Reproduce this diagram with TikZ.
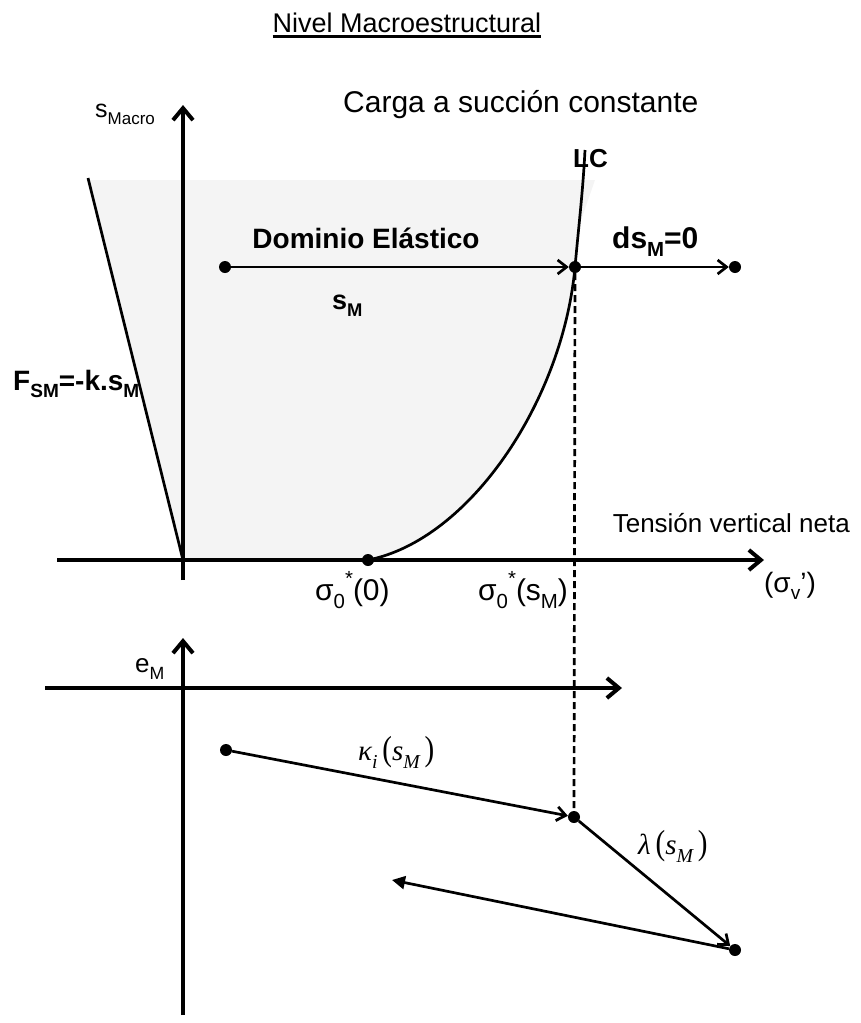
\documentclass[tikz,border=0pt]{standalone}
\usepackage{fontspec}
\setmainfont{Liberation Sans}
\newfontfamily\tms{Liberation Serif}
\usepackage{graphicx}
\usetikzlibrary{arrows.meta}
\newcommand\dn[1]{\raisebox{-0.28em}{\scalebox{0.68}{#1}}}
\newcommand\up[1]{\raisebox{0.5em}{\scalebox{0.68}{#1}}}
\newcommand\fs[1]{\fontsize{#1}{#1}\selectfont}
\newcommand\bigpar[1]{\scalebox{1}[1.2]{#1}}
\begin{document}
\begin{tikzpicture}[x=1pt,y=-1pt,
  dot/.style={circle,fill=black,inner sep=0pt,minimum size=12pt},
  axis/.style={line width=4pt,-{Straight Barb[length=12pt,width=20pt]}},
  conn/.style={line width=2.7pt,-{Straight Barb[length=9pt,width=14pt]}},
  plain/.style={line width=2.7pt},
  lab/.style={inner sep=0pt},
]
\useasboundingbox (0,0) rectangle (861,1023);
% shaded elastic domain
\fill[gray!9] (88,180) -- (595,180) -- (577,232) -- (575,267) .. controls (563,400) and (470,540) .. (368,560) -- (183,560) -- cycle;
% upper axes
\coordinate (vb) at (183,580); \coordinate (vt) at (183,105);
\coordinate (hl) at (57,560); \coordinate (hr) at (764,560);
\draw[axis] (vb) -- (vt);
\draw[axis] (hl) -- (hr);
\coordinate (o) at (183,560); \coordinate (ft) at (88,178);
\draw[plain] (o) -- (ft);
% points
\node[dot] (s0) at (368,560) {};
\node[dot] (b) at (575,267) {};
\node[dot] (a) at (225,267) {};
\node[dot] (c) at (735,267) {};
\coordinate (lct) at (585,150);
\draw[plain] (s0.center) .. controls (470,540) and (563,400) .. (b.center) .. controls (579,223) and (583,190) .. (lct);
\draw[conn] (a) -- (b);
\draw[conn] (b) -- (c);
% lower axes
\coordinate (lvb) at (183,1015); \coordinate (lvt) at (183,638);
\coordinate (lhl) at (45,688); \coordinate (lhr) at (622,688);
\draw[axis] (lvb) -- (lvt);
\draw[axis] (lhl) -- (lhr);
\node[dot] (e1) at (226,750) {};
\node[dot] (e2) at (574,817) {};
\node[dot] (e3) at (735,950) {};
\coordinate (e4) at (392,880);
\draw[plain,dash pattern=on 7pt off 4pt] (b) -- (e2);
\draw[conn] (e1) -- (e2);
\draw[conn] (e2) -- (e3);
\draw[line width=2.7pt,-{Triangle[length=13pt,width=13pt]}] (e3) -- (e4);
% labels
\node[lab,anchor=base,font=\fs{27}] (title) at (407,32) {Nivel Macroestructural};
\draw[line width=2.5pt] ([yshift=-4.5pt]title.base west) -- ([yshift=-4.5pt]title.base east);
\node[lab,anchor=base west,font=\fs{30}] (carga) at (343,112) {Carga a succión constante};
\node[lab,anchor=base west,font=\fs{25}] (smacro) at (95,117) {s\dn{Macro}};
\node[lab,anchor=base west,font=\bfseries\fs{26}] (lc) at (573,167) {LC};
\node[lab,anchor=base,font=\bfseries\fs{28}] (dom) at (366,248) {Dominio Elástico};
\node[lab,anchor=base west,font=\bfseries\fs{27}] (sm) at (332,309) {s\dn{M}};
\node[lab,anchor=base west,font=\bfseries\fs{30}] (ds) at (612,248) {ds\dn{M}=0};
\node[lab,anchor=base west,font=\bfseries\fs{28}] (fsm) at (13,390) {F\dn{SM}=-k.s\dn{M}};
\node[lab,anchor=base west,font=\fs{30}] (sig0) at (315,600) {σ\dn{0}\up{*}(0)};
\node[lab,anchor=base west,font=\fs{30}] (sigs) at (478,600) {σ\dn{0}\up{*}(s\dn{M})};
\node[lab,anchor=base east,font=\fs{26}] (tens) at (850,532) {Tensión vertical neta};
\node[lab,anchor=base,font=\fs{28}] (sigv) at (790,592) {(σ\dn{v}')};
\node[lab,anchor=base west,font=\fs{26}] (em) at (135,672) {e\dn{M}};
\node[lab,anchor=west,font=\tms\fs{29}] (kap) at (358,752) {\itshape κ\dn{i}\,\upshape\bigpar{(}\itshape s\dn{M}\upshape\,\bigpar{)}};
\node[lab,anchor=west,font=\tms\fs{29}] (lam) at (638,846) {\itshape λ\,\upshape\bigpar{(}\itshape s\dn{M}\upshape\,\bigpar{)}};
\end{tikzpicture}
\end{document}
